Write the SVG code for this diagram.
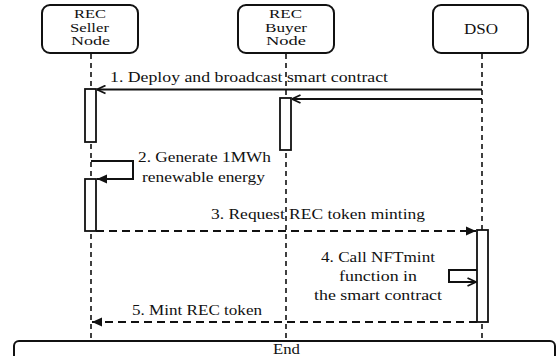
<svg xmlns="http://www.w3.org/2000/svg" width="556" height="356" viewBox="0 0 556 356">
  <defs>
    <style>
      text { font-family: "Liberation Serif", "DejaVu Serif", serif; font-size: 15px; fill: #111; }
      .nl { font-size: 12.5px; }
      .node { fill: #fff; stroke: #111; stroke-width: 2; }
      .life { stroke: #111; stroke-width: 1.6; stroke-dasharray: 5 4; fill: none; }
      .act { fill: #fff; stroke: #111; stroke-width: 1.8; }
      .msg { stroke: #111; stroke-width: 2; fill: none; }
      .dash { stroke-dasharray: 8 5; }
    </style>
    <marker id="open" viewBox="0 0 10 10" refX="9.5" refY="5" markerWidth="10" markerHeight="10" markerUnits="userSpaceOnUse" orient="auto">
      <path d="M1 1 L9.5 5 L1 9" fill="none" stroke="#111" stroke-width="1.8"/>
    </marker>
    <marker id="solid" viewBox="0 0 10 10" refX="10" refY="5" markerWidth="10" markerHeight="10" markerUnits="userSpaceOnUse" orient="auto">
      <path d="M0 0.5 L10 5 L0 9.5 Z" fill="#111"/>
    </marker>
  </defs>

  <!-- lifelines -->
  <g id="lifelines">
    <line class="life" x1="91" y1="54" x2="91" y2="341"/>
    <line class="life" x1="286" y1="54" x2="286" y2="341"/>
    <line class="life" x1="482" y1="54" x2="482" y2="341"/>
  </g>

  <!-- participants -->
  <g id="seller">
    <rect class="node" x="42" y="5" width="96" height="48" rx="8"/>
    <text class="nl" x="74" y="18" textLength="32" lengthAdjust="spacingAndGlyphs">REC</text>
    <text class="nl" x="70" y="31.5" textLength="39" lengthAdjust="spacingAndGlyphs">Seller</text>
    <text class="nl" x="71" y="45" textLength="39" lengthAdjust="spacingAndGlyphs">Node</text>
  </g>
  <g id="buyer">
    <rect class="node" x="238" y="5" width="96" height="48" rx="8"/>
    <text class="nl" x="269" y="18" textLength="33" lengthAdjust="spacingAndGlyphs">REC</text>
    <text class="nl" x="265" y="31.5" textLength="42" lengthAdjust="spacingAndGlyphs">Buyer</text>
    <text class="nl" x="266" y="45" textLength="40" lengthAdjust="spacingAndGlyphs">Node</text>
  </g>
  <g id="dso">
    <rect class="node" x="433" y="5" width="95" height="48" rx="8"/>
    <text x="464" y="34" textLength="34" lengthAdjust="spacingAndGlyphs">DSO</text>
  </g>

  <!-- activation bars -->
  <g id="activations">
    <rect class="act" x="85" y="89" width="11" height="53"/>
    <rect class="act" x="280" y="98" width="11" height="52"/>
    <rect class="act" x="85" y="179" width="11" height="52"/>
    <rect class="act" x="477" y="230" width="11" height="92"/>
  </g>

  <!-- messages -->
  <g id="connectors">
    <line class="msg" x1="482" y1="89.5" x2="97" y2="89.5" marker-end="url(#open)"/>
    <line class="msg" x1="482" y1="99" x2="292" y2="99" marker-end="url(#open)"/>
    <polyline class="msg" points="91,161 133,161 133,179 97,179" marker-end="url(#solid)"/>
    <line class="msg dash" x1="96" y1="231" x2="476" y2="231" marker-end="url(#solid)"/>
    <polyline class="msg" points="477,270 449,270 449,282 476,282" marker-end="url(#open)"/>
    <line class="msg dash" x1="477" y1="322" x2="92" y2="322" marker-end="url(#solid)"/>
  </g>

  <!-- message labels -->
  <g id="labels">
    <text x="110" y="82" textLength="278" lengthAdjust="spacingAndGlyphs">1. Deploy and broadcast smart contract</text>
    <text x="138" y="162" textLength="133" lengthAdjust="spacingAndGlyphs">2. Generate 1MWh</text>
    <text x="142" y="182" textLength="123" lengthAdjust="spacingAndGlyphs">renewable energy</text>
    <text x="211" y="219" textLength="214" lengthAdjust="spacingAndGlyphs">3. Request REC token minting</text>
    <text x="321" y="262" textLength="114" lengthAdjust="spacingAndGlyphs">4. Call NFTmint</text>
    <text x="339" y="281" textLength="78" lengthAdjust="spacingAndGlyphs">function in</text>
    <text x="314" y="300" textLength="128" lengthAdjust="spacingAndGlyphs">the smart contract</text>
    <text x="132" y="315" textLength="130" lengthAdjust="spacingAndGlyphs">5. Mint REC token</text>
  </g>

  <!-- closing frame -->
  <g id="end">
    <rect class="node" x="14" y="341" width="541" height="30" rx="5"/>
    <text x="273" y="354" textLength="27" lengthAdjust="spacingAndGlyphs">End</text>
  </g>
</svg>
